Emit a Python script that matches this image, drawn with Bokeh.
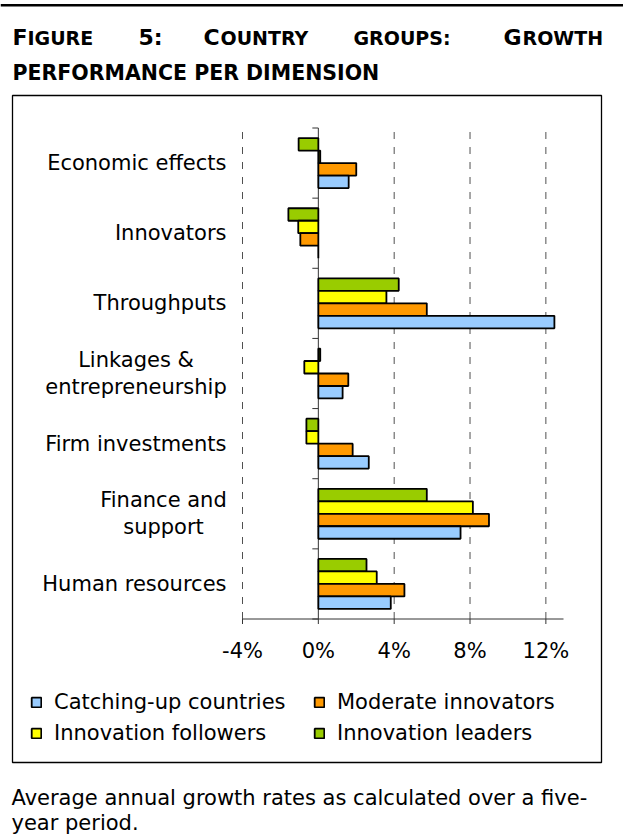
from bokeh.plotting import figure
from bokeh.models import (Range1d, Label, BoxAnnotation, Legend, LegendItem)
from bokeh.core.properties import value
from bokeh.embed import file_html
from bokeh.resources import INLINE

# ---------------- data ----------------
categories = ["Economic effects", "Innovators", "Throughputs",
              "Linkages &\nentrepreneurship", "Firm investments",
              "Finance and\nsupport", "Human resources"]
catching_up = [1.6, 0.0, 12.45, 1.28, 2.66, 7.5, 3.82]
moderate = [2.0, -0.95, 5.72, 1.58, 1.81, 9.0, 4.54]
followers = [0.1, -1.06, 3.59, -0.74, -0.63, 8.15, 3.08]
leaders = [-1.04, -1.58, 4.24, 0.1, -0.63, 5.72, 2.54]
series_names = ["Catching-up countries", "Moderate innovators",
                "Innovation followers", "Innovation leaders"]
x_ticks = [-4, 0, 4, 8, 12]
x_tick_labels = [f"{t}%" for t in x_ticks]

# ---------------- layout (pixels) ----------------
W, H = 623, 838
FONT = "DejaVu Sans"
n = len(categories)
X_MIN, X_MAX = -4, 12.93          # extent of value axis
PLOT_L, PLOT_R = 242, 563         # pixel positions of X_MIN / X_MAX
PLOT_T, PLOT_B = 127.5, 618.5     # pixel top / bottom of category band
KX = (PLOT_R - PLOT_L) / (X_MAX - X_MIN)
KY = (PLOT_B - PLOT_T) / n


def xat(px):
    return X_MIN + (px - PLOT_L) / KX


def yat(py):
    return (PLOT_B - py) / KY


p = figure(width=W, height=H, x_range=Range1d(xat(0), xat(W)),
           y_range=Range1d(yat(H), yat(0)), x_axis_type=None, y_axis_type=None,
           min_border=0, output_backend="svg", toolbar_location=None, title=None)
p.outline_line_color = None
p.background_fill_color = "white"
p.border_fill_color = "white"

centers = [n - 1 - i + 0.5 for i in range(n)]
bounds = list(range(n + 1))
AX = "#333333"

# dashed gridlines
grid_x = [t for t in x_ticks if t != 0]
p.segment(x0=grid_x, x1=grid_x, y0=[0] * len(grid_x), y1=[n] * len(grid_x),
          line_color="#505050", line_width=1, line_dash="7 8")

# value axis (bottom)
p.segment(x0=[X_MIN], x1=[X_MAX], y0=[0], y1=[0], line_color=AX, line_width=1)
p.segment(x0=x_ticks, x1=x_ticks, y0=[0] * len(x_ticks),
          y1=[-5 / KY] * len(x_ticks), line_color=AX, line_width=1)
p.text(x=x_ticks, y=[-31.5 / KY] * len(x_ticks), text=x_tick_labels,
       text_align="center", text_baseline="middle", text_font=value(FONT),
       text_font_size="21px", text_color="black")

# category axis at zero with boundary ticks
p.segment(x0=[0], x1=[0], y0=[0], y1=[n], line_color=AX, line_width=1)
p.segment(x0=[0] * len(bounds), x1=[-6 / KX] * len(bounds), y0=bounds, y1=bounds,
          line_color=AX, line_width=1)

# category labels: right edge of the label block at px 226,
# lines of two-line labels centred on each other
LABEL_RIGHT = 226
LINE_GAP = 27
LONGEST_LINE_PX = {"entrepreneurship": 181, "Finance and": 126}
one_x, one_y, one_t = [], [], []
two_x, two_y, two_t = [], [], []
for c, cat in zip(centers, categories):
    lines = cat.split("\n")
    if len(lines) == 1:
        one_x.append(xat(LABEL_RIGHT))
        one_y.append(c)
        one_t.append(cat)
    else:
        wmax = max(LONGEST_LINE_PX.get(l, 0) for l in lines)
        xc = xat(LABEL_RIGHT - wmax / 2)
        for j, line in enumerate(lines):
            two_x.append(xc)
            two_y.append(c + (LINE_GAP / 2 - j * LINE_GAP) / KY)
            two_t.append(line)
p.text(x=one_x, y=one_y, text=one_t, text_align="right", text_baseline="middle",
       text_font=value(FONT), text_font_size="21px", text_color="black")
p.text(x=two_x, y=two_y, text=two_t, text_align="center", text_baseline="middle",
       text_font=value(FONT), text_font_size="21px", text_color="black")

# bars
bar_h = 0.178
spec = [
    (leaders, "#99CC00", 1.5),
    (followers, "#FFFF00", 0.5),
    (moderate, "#FF9900", -0.5),
    (catching_up, "#99CCFF", -1.5),
]
renderers = []
for vals, color, k in spec:
    ys = [c + k * bar_h for c in centers]
    r = p.hbar(y=ys, left=0, right=vals, height=bar_h, fill_color=color,
               line_color="black", line_width=1.8)
    renderers.append(r)
r_lead, r_foll, r_mod, r_catch = renderers

# legend (two columns, filled column by column); location from canvas bottom-left
LEG_H = 24 * 2 + 7
legend = Legend(items=[
    LegendItem(label=series_names[0], renderers=[r_catch]),
    LegendItem(label=series_names[2], renderers=[r_foll]),
    LegendItem(label=series_names[1], renderers=[r_mod]),
    LegendItem(label=series_names[3], renderers=[r_lead]),
], location=(30, H - (690 + LEG_H)), ncols=2, glyph_width=12, glyph_height=12,
    label_standoff=12, label_width=252, spacing=7, padding=0, margin=0,
    border_line_color=None, background_fill_alpha=0,
    label_text_font=FONT, label_text_font_size="21px", label_text_color="black",
    label_height=24)
p.add_layout(legend, "center")


def lab(text, x, y, size, bold=False, baseline="alphabetic"):
    p.add_layout(Label(x=x, y=y, x_units="canvas", y_units="canvas", text=text,
                       text_font=FONT, text_font_size=f"{size}px",
                       text_font_style="bold" if bold else "normal",
                       text_baseline=baseline, text_color="black"))


# title (small caps emulated)
BIG, SMALL = 22, 19
lab("F", 12, 37, BIG, True)
lab("IGURE", 27, 37, SMALL, True)
lab("5:", 138, 37, BIG, True)
lab("C", 203, 37, BIG, True)
lab("OUNTRY", 220, 37, SMALL, True)
lab("GROUPS:", 353, 37, SMALL, True)
lab("G", 503, 37, BIG, True)
lab("ROWTH", 522, 37, SMALL, True)
lab("PERFORMANCE PER DIMENSION", 12, 72, 20.5, True)

# caption
lab("Average annual growth rates as calculated over a five-", 11, 797, 21, baseline="middle")
lab("year period.", 11, 822, 21, baseline="middle")

# chart box and top rule
p.add_layout(BoxAnnotation(left=12, right=601, top=95, bottom=762,
                           left_units="canvas", right_units="canvas",
                           top_units="canvas", bottom_units="canvas",
                           fill_alpha=0, line_color="black", line_alpha=1,
                           line_width=1.3))
p.add_layout(BoxAnnotation(left=0, right=W, top=3.5, bottom=6,
                           left_units="canvas", right_units="canvas",
                           top_units="canvas", bottom_units="canvas",
                           fill_color="black", fill_alpha=1, line_color=None))

open("out.html", "w").write(file_html(p, INLINE))
